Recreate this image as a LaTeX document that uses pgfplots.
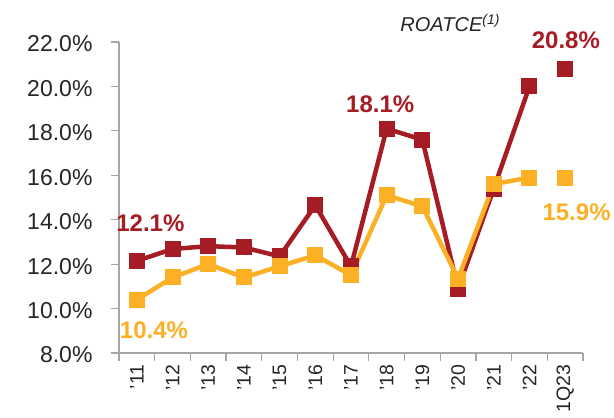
\documentclass[border=0pt]{standalone}
\usepackage{pgfplots}
\pgfplotsset{compat=1.18}
\usepackage{fontspec}
\setmainfont{Liberation Sans}
\definecolor{cred}{HTML}{A61C24}
\definecolor{cyel}{HTML}{FBB025}
\definecolor{cax}{HTML}{A6A6A6}
\definecolor{ctxt}{HTML}{262626}
\begin{document}
\begin{tikzpicture}
\path[use as bounding box] (-119pt,-65pt) rectangle (495pt,353pt);
\begin{axis}[
  at={(0,0)}, anchor=south west,
  scale only axis, width=464pt, height=311pt,
  xmin=-0.5, xmax=12.5, ymin=8, ymax=22,
  axis lines*=left,
  axis line style={cax, line width=1.2pt},
  clip=false,
  ytick={8,10,...,22},
  yticklabel={\pgfmathprintnumber[fixed,fixed zerofill,precision=1]{\tick}\%},
  /pgf/number format/assume math mode=true,
  yticklabel style={font=\fontsize{23}{26}\selectfont, text=ctxt, xshift=-15pt, yshift=-2pt},
  xtick={0,...,12},
  xticklabels={'11,'12,'13,'14,'15,'16,'17,'18,'19,'20,'21,'22,1Q23},
  xticklabel style={rotate=90, anchor=east, font=\fontsize{19.5}{22}\selectfont, text=ctxt},
  minor xtick={-0.5,0.5,...,12.5},
  major x tick style={draw=none},
  minor tick length=8pt,
  major tick length=8pt,
  tick style={cax, line width=1.2pt},
  tick align=outside,
  every tick/.style={cax, line width=1.2pt},
]
\addplot[cred, line width=4.5pt, mark=square*, mark size=7.5pt, mark options={solid, line width=0pt}] coordinates {
 (0,12.15) (1,12.68) (2,12.81) (3,12.75) (4,12.35) (5,14.65) (6,11.9) (7,18.1) (8,17.6) (9,10.9) (10,15.4) (11,20.0)};
\addplot[cred, only marks, mark=square*, mark size=7.5pt, mark options={line width=0pt}] coordinates {(12,20.8)};
\addplot[cyel, line width=4.5pt, mark=square*, mark size=7.5pt, mark options={solid, line width=0pt}] coordinates {
 (0,10.4) (1,11.4) (2,12.0) (3,11.4) (4,11.9) (5,12.4) (6,11.5) (7,15.1) (8,14.6) (9,11.35) (10,15.6) (11,15.9)};
\addplot[cyel, only marks, mark=square*, mark size=7.5pt, mark options={line width=0pt}] coordinates {(12,15.9)};
\node[text=cred, font=\fontsize{24}{28}\selectfont\bfseries] at (axis cs:0.38,13.86) {12.1\%};
\node[text=cyel, font=\fontsize{24}{28}\selectfont\bfseries] at (axis cs:0.48,9.04) {10.4\%};
\node[text=cred, font=\fontsize{24}{28}\selectfont\bfseries] at (axis cs:6.82,19.2) {18.1\%};
\node[text=cred, font=\fontsize{24}{28}\selectfont\bfseries] at (axis cs:12.02,22.08) {20.8\%};
\node[text=cyel, font=\fontsize{24}{28}\selectfont\bfseries] at (axis cs:12.32,14.33) {15.9\%};
\node[text=ctxt, font=\fontsize{20}{24}\selectfont\itshape] at (axis cs:8.78,22.86) {ROATCE\textsuperscript{(1)}};
\end{axis}
\end{tikzpicture}
\end{document}
